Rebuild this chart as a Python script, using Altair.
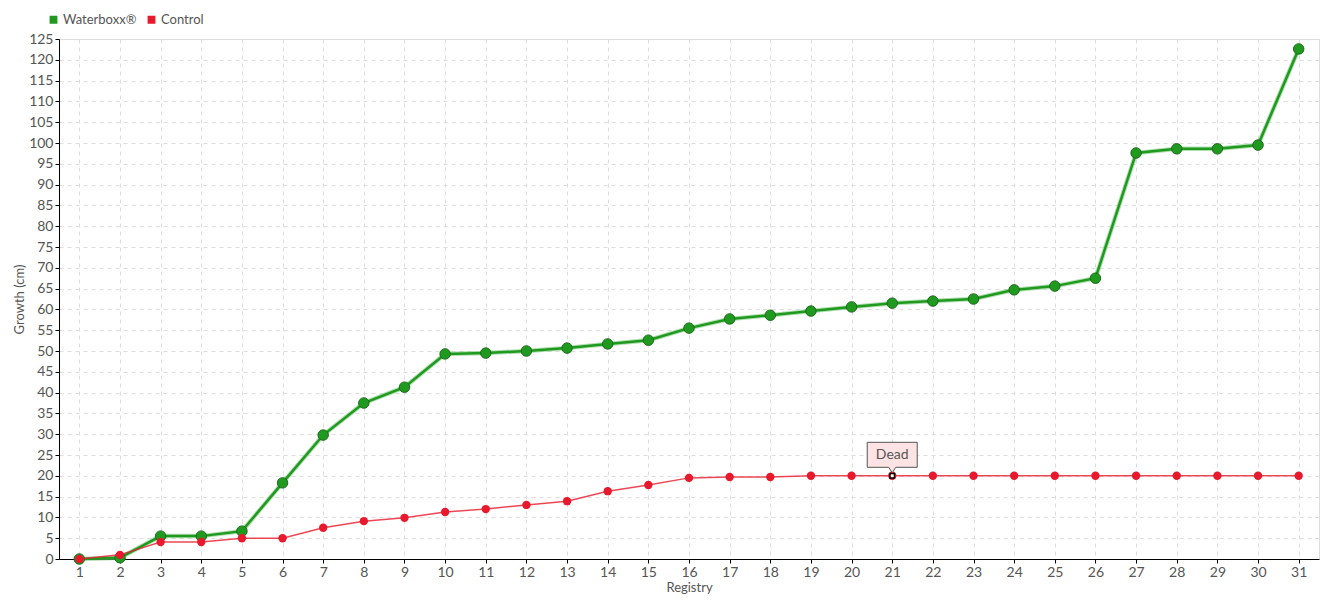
import altair as alt
import pandas as pd

registry = list(range(1, 32))
waterboxx = [0, 0.3, 5.5, 5.5, 6.7, 18.3, 29.8, 37.5, 41.3, 49.3, 49.5, 50.0, 50.7, 51.7, 52.6,
             55.5, 57.7, 58.6, 59.6, 60.6, 61.5, 62.0, 62.5, 64.7, 65.6, 67.5, 97.6, 98.6, 98.6, 99.5, 122.6]
control = [0, 1.0, 4.1, 4.1, 5.0, 5.0, 7.5, 9.1, 9.9, 11.3, 12.0, 13.0, 13.9, 16.3, 17.8,
           19.5, 19.7, 19.7, 20.0, 20.0, 20.0, 20.0, 20.0, 20.0, 20.0, 20.0, 20.0, 20.0, 20.0, 20.0, 20.0]
series_names = ["Waterboxx®", "Control"]
series_colors = ["#1f9a1f", "#e8192c"]
annot_registry = [21]
annot_value = [20.0]
annot_text = ["Dead"]

FONT = "Lato"

rows = []
for r, w, c in zip(registry, waterboxx, control):
    rows.append({"Registry": str(r), "Growth": w, "Series": series_names[0]})
    rows.append({"Registry": str(r), "Growth": c, "Series": series_names[1]})
df = pd.DataFrame(rows)
ann = pd.DataFrame({"Registry": [str(v) for v in annot_registry], "Growth": annot_value, "Text": annot_text})

order = [str(r) for r in registry]
x = alt.X("Registry:N", sort=order, title="Registry",
          scale=alt.Scale(type="point", padding=0.5),
          axis=alt.Axis(labelAngle=0, grid=True, gridDash=[4, 4], gridColor="#dddddd",
                        tickSize=4, tickColor="#000", domainColor="#000",
                        labelColor="#555", labelFontSize=14, labelFont=FONT,
                        titleColor="#555", titleFontSize=13, titleFont=FONT, titleFontWeight="normal",
                        titlePadding=2, labelPadding=2))
y = alt.Y("Growth:Q", title="Growth (cm)",
          scale=alt.Scale(domain=[0, 125], nice=False),
          axis=alt.Axis(values=list(range(0, 126, 5)), grid=True, gridDash=[4, 4], gridColor="#dddddd",
                        tickSize=4, tickColor="#000", domainColor="#000",
                        labelColor="#555", labelFontSize=14, labelFont=FONT,
                        titleColor="#555", titleFontSize=13, titleFont=FONT, titleFontWeight="normal",
                        titlePadding=2, labelPadding=2))
color = alt.Color("Series:N", scale=alt.Scale(domain=series_names, range=series_colors),
                  legend=alt.Legend(title=None, orient="none", legendX=-12, legendY=-26,
                                    direction="horizontal", symbolType="square", symbolSize=40,
                                    labelFont=FONT, labelFontSize=13, labelColor="#555",
                                    columnPadding=8, symbolOffset=0, labelOffset=3))

base = alt.Chart(df)
g = base.transform_filter(alt.datum.Series == series_names[0])
r = base.transform_filter(alt.datum.Series == series_names[1])

g_shadow = g.mark_line(strokeWidth=4.5, color="#7cc87c", opacity=0.6).encode(x=x, y=y)
g_line = g.mark_line(strokeWidth=2.5).encode(x=x, y=y, color=color)
g_pts = g.mark_point(filled=True, size=110, opacity=1, stroke="#1c6b1c", strokeWidth=1).encode(
    x=x, y=y, color=color)
r_line = r.mark_line(strokeWidth=1.5, opacity=0.8).encode(x=x, y=y, color=color)
r_pts = r.mark_point(filled=True, size=70, opacity=1).encode(x=x, y=y, color=color)

marker = alt.Chart(ann).mark_point(shape="square", filled=True, fill="white", stroke="black",
                                   strokeWidth=1.5, size=20, opacity=1).encode(x=x, y=y)
box = alt.Chart(ann).mark_point(
    shape="M -1 -0.5 L 1 -0.5 L 1 0.5 L 0.14 0.5 L 0 0.72 L -0.14 0.5 L -1 0.5 Z",
    filled=True, fill="#fde3e3", stroke="#555", strokeWidth=1, size=2500, opacity=1, yOffset=-21
).encode(x=x, y=y)
label = alt.Chart(ann).mark_text(font=FONT, fontSize=14, color="#555", yOffset=-21).encode(
    x=x, y=y, text="Text:N")

chart = alt.layer(g_shadow, g_line, g_pts, r_line, r_pts, marker, box, label).properties(
    width=1260, height=520
).configure_view(stroke=None).configure(background="white")

chart.save("out.html", embed_options={"renderer": "svg", "actions": False})
